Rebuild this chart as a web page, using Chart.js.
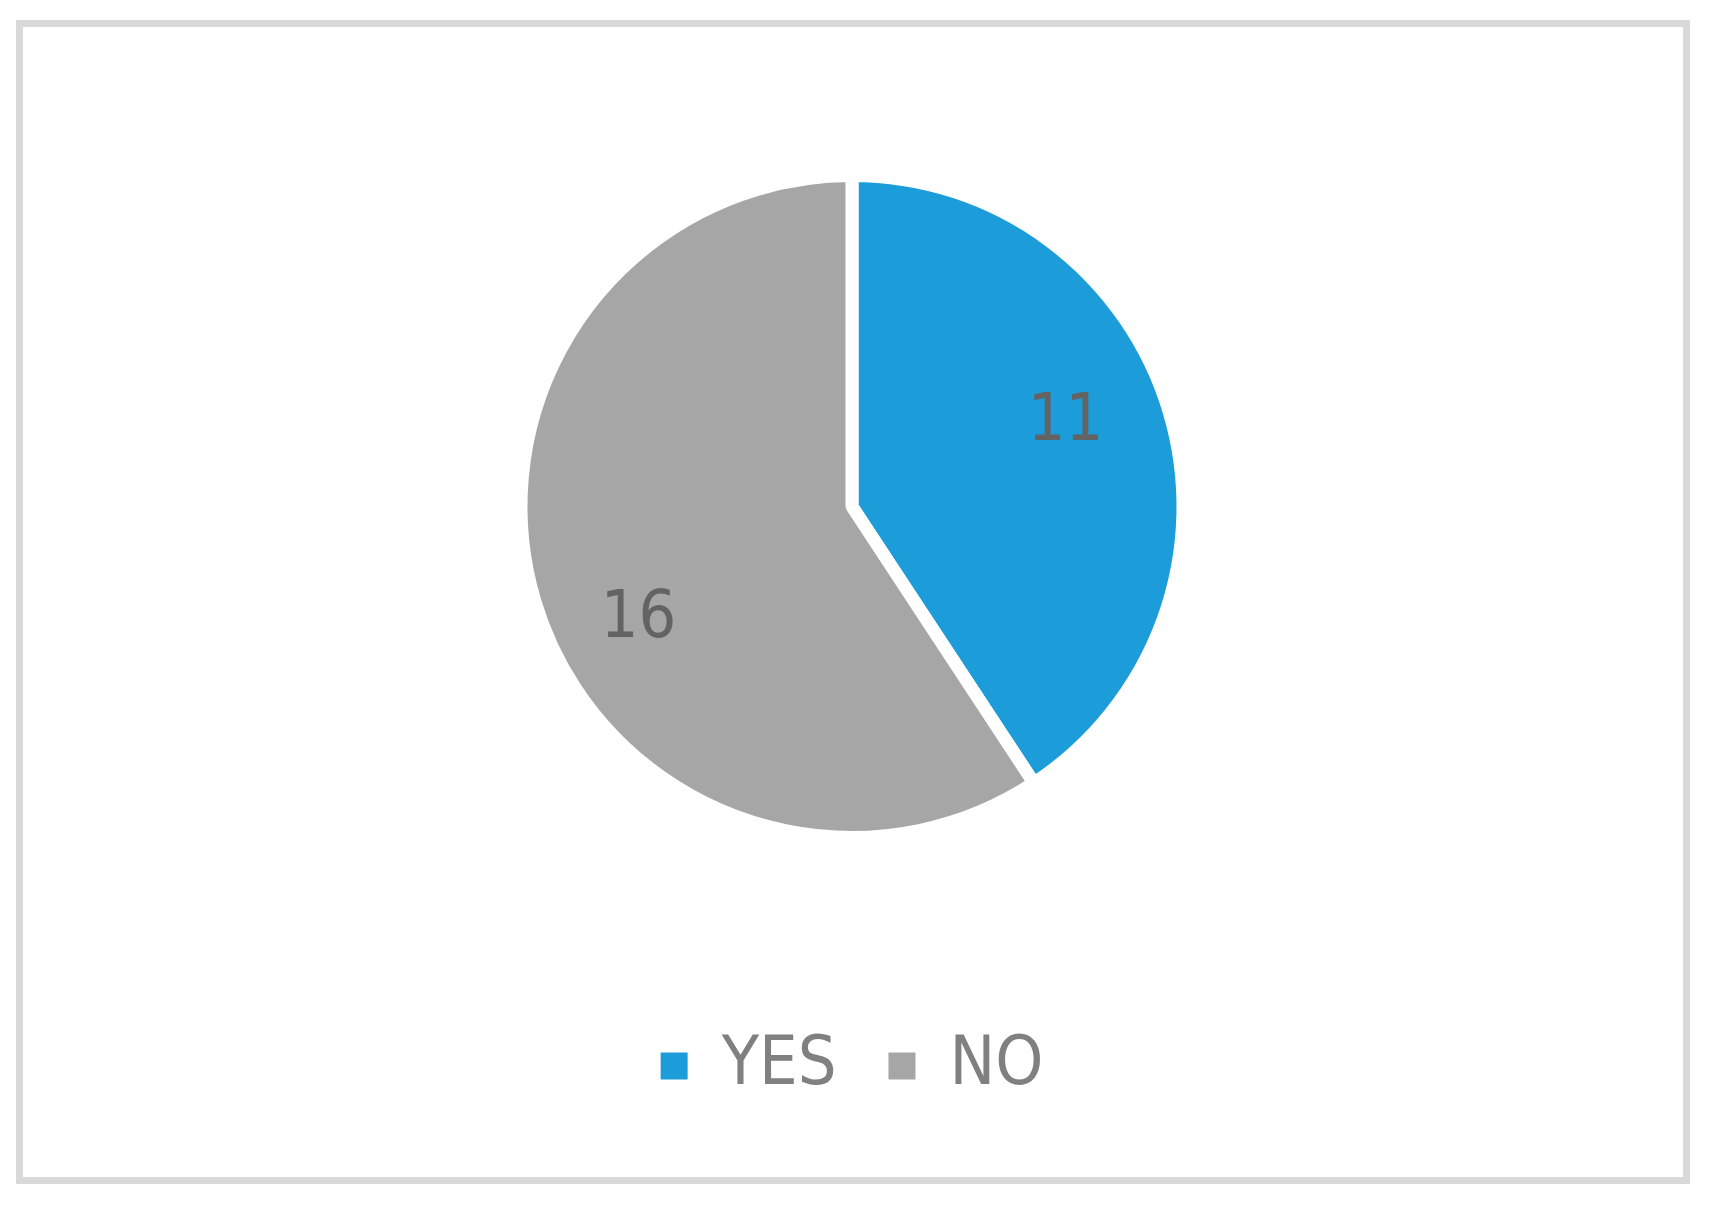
<!DOCTYPE html>
<html>
<head>
<meta charset="utf-8">
<script src="https://cdn.jsdelivr.net/npm/chart.js@4"></script>
<style>
  html, body { margin: 0; padding: 0; background: #ffffff; }
  #frame { position: absolute; left: 16px; top: 20px; width: 1674px; height: 1164px; box-sizing: border-box; border: 7px solid #d9d9d9; }
  #wrap { position: absolute; left: 0; top: 0; width: 1713px; height: 1206px; }
</style>
</head>
<body>
<div id="frame"></div>
<div id="wrap"><canvas id="c" width="1713" height="1206"></canvas></div>
<script>
const categories = ['YES', 'NO'];
const values = [11, 16];
const sliceColors = ['#1c9cd9', '#a6a6a6'];

const FONT = '"DejaVu Sans Condensed", "DejaVu Sans", sans-serif';

const valueLabels = {
  id: 'valueLabels',
  afterDatasetsDraw(chart) {
    const ctx = chart.ctx;
    const meta = chart.getDatasetMeta(0);
    ctx.save();
    ctx.font = '66px ' + FONT;
    ctx.fillStyle = '#636363';
    ctx.textAlign = 'center';
    ctx.textBaseline = 'middle';
    meta.data.forEach((arc, i) => {
      const p = arc.getProps(['x', 'y', 'startAngle', 'endAngle', 'outerRadius'], true);
      const mid = (p.startAngle + p.endAngle) / 2 - 0.14;
      const r = p.outerRadius * 0.71;
      ctx.fillText(String(values[i]), p.x + Math.cos(mid) * r, p.y + Math.sin(mid) * r + 15);
    });
    ctx.restore();
  }
};

new Chart(document.getElementById('c'), {
  type: 'pie',
  data: {
    labels: categories,
    datasets: [{
      data: values,
      backgroundColor: sliceColors,
      borderColor: '#ffffff',
      borderWidth: 13,
      radius: 331
    }]
  },
  options: {
    responsive: false,
    animation: false,
    layout: { padding: { top: 33, bottom: 96, left: 0, right: 9 } },
    plugins: {
      tooltip: { enabled: false },
      legend: {
        position: 'bottom',
        labels: {
          boxWidth: 27,
          boxHeight: 27,
          padding: 52,
          color: '#808080',
          font: { family: FONT, size: 68 },
          generateLabels(chart) {
            const items = Chart.controllers.pie.overrides.plugins.legend.labels.generateLabels(chart);
            items.forEach(it => { it.lineWidth = 0; it.strokeStyle = 'rgba(0,0,0,0)'; });
            return items;
          }
        }
      }
    }
  },
  plugins: [valueLabels]
});
</script>
</body>
</html>
